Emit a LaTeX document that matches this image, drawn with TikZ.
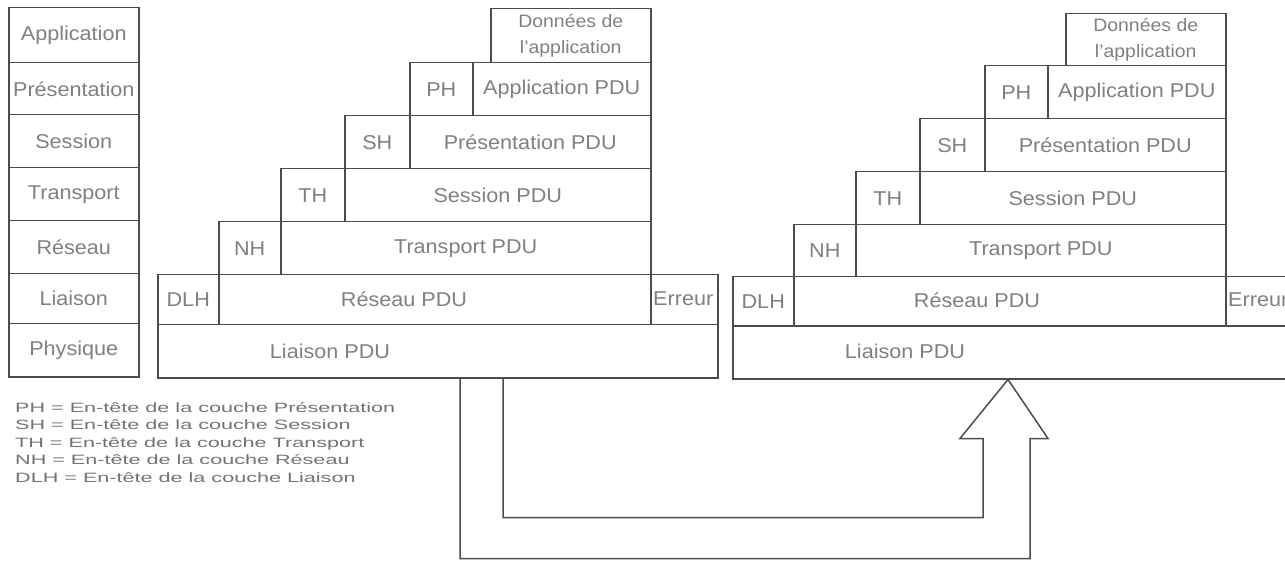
\documentclass[tikz,border=0pt]{standalone}
\usepackage{fontspec}
\setmainfont{Liberation Sans}[FakeStretch=1.08]
\newfontfamily\legendfont{Liberation Sans}[FakeStretch=1.6]
\usetikzlibrary{calc}

\tikzset{
  cell/.style={draw=black!70, line width=1.5pt, rectangle, anchor=north west,
    inner sep=0pt, text=black!50, font=\fontsize{20}{24}\selectfont},
  txt/.style={text=black!50, inner sep=0pt, font=\fontsize{20}{24}\selectfont},
  datacell/.style={cell, align=center, font=\fontsize{18}{26}\selectfont},
  legend/.style={text=black!55, inner sep=0pt, anchor=north west, align=left,
    font=\legendfont\fontsize{13.5}{17.5}\selectfont},
  bigarrow/.style={draw=black!70, line width=1.5pt, line join=miter}
}

\begin{document}
\begin{tikzpicture}[x=1pt, y=-1pt]
  \useasboundingbox (0,0) rectangle (1285,561);
  \clip (0,0) rectangle (1285,561);
  % OSI layers
  \node[cell, minimum width=130, minimum height=55] (app) at (8,7) {Application};
  \node[cell, minimum width=130, minimum height=52] (pre) at (8,62) {Présentation};
  \node[cell, minimum width=130, minimum height=53] (ses) at (8,114) {Session};
  \node[cell, minimum width=130, minimum height=53] (tra) at (8,167) {Transport};
  \node[cell, minimum width=130, minimum height=53] (res) at (8,220) {Réseau};
  \node[cell, minimum width=130, minimum height=50] (lia) at (8,273) {Liaison};
  \node[cell, minimum width=130, minimum height=53] (phy) at (8,323) {Physique};
  % Encapsulation 1
  \node[datacell, minimum width=160, minimum height=54] (donL) at (490,8) {Données de\\l'application};
  \node[cell, minimum width=63, minimum height=53] (phL) at (409,62) {PH};
  \node[cell, minimum width=178, minimum height=53] (appL) at (472,62) {Application PDU};
  \node[cell, minimum width=65, minimum height=53] (shL) at (344,115) {SH};
  \node[cell, minimum width=241, minimum height=53] (preL) at (409,115) {Présentation PDU};
  \node[cell, minimum width=64, minimum height=53] (thL) at (280,168) {TH};
  \node[cell, minimum width=306, minimum height=53] (sesL) at (344,168) {Session PDU};
  \node[cell, minimum width=62, minimum height=53] (nhL) at (218,221) {NH};
  \node[cell, minimum width=370, minimum height=53] (traL) at (280,221) {Transport PDU};
  \node[cell, minimum width=61, minimum height=50] (dlhL) at (157,274) {DLH};
  \node[cell, minimum width=432, minimum height=50] (resL) at (218,274) {};
  \node[cell, minimum width=67, minimum height=50] (errL) at (650,274) {};
  \node[cell, minimum width=560, minimum height=53] (liaL) at (157,324) {};
  \node[txt] (resLt) at (404,299) {Réseau PDU};
  \node[txt, anchor=west] (errLt) at (653,299) {Erreur};
  \node[txt] (liaLt) at (330,351) {Liaison PDU};
  % Encapsulation 2
  \node[datacell, minimum width=160, minimum height=52] (donR) at (1065,13) {Données de\\l'application};
  \node[cell, minimum width=63, minimum height=53] (phR) at (984,65) {PH};
  \node[cell, minimum width=178, minimum height=53] (appR) at (1047,65) {Application PDU};
  \node[cell, minimum width=65, minimum height=53] (shR) at (919,118) {SH};
  \node[cell, minimum width=241, minimum height=53] (preR) at (984,118) {Présentation PDU};
  \node[cell, minimum width=64, minimum height=53] (thR) at (855,171) {TH};
  \node[cell, minimum width=306, minimum height=53] (sesR) at (919,171) {Session PDU};
  \node[cell, minimum width=62, minimum height=52] (nhR) at (793,224) {NH};
  \node[cell, minimum width=370, minimum height=52] (traR) at (855,224) {Transport PDU};
  \node[cell, minimum width=61, minimum height=49] (dlhR) at (732,276) {DLH};
  \node[cell, minimum width=432, minimum height=49] (resR) at (793,276) {};
  \node[cell, minimum width=67, minimum height=49] (errR) at (1225,276) {};
  \node[cell, minimum width=560, minimum height=53] (liaR) at (732,325) {};
  \node[txt] (resRt) at (977,300) {Réseau PDU};
  \node[txt, anchor=west] (errRt) at (1228,300) {Erreur};
  \node[txt] (liaRt) at (905,351) {Liaison PDU};
  % Big arrow
  \coordinate (from) at ($(liaL.south west)+(303,0)$);
  \coordinate (tip) at ($(liaR.south west)+(276,0)$);
  \draw[bigarrow] (from) -- ++(0,180) -| ($(tip)+(22,59)$) -- ++(18,0) -- (tip)
    -- ($(tip)+(-48,59)$) -- ++(23,0) |- ($(from)+(43,139)$) -- ++(0,-139);
  % Legend
  \node[legend] (key) at (15,402) {PH = En-tête de la couche Présentation\\
    SH = En-tête de la couche Session\\
    TH = En-tête de la couche Transport\\
    NH = En-tête de la couche Réseau\\
    DLH = En-tête de la couche Liaison};
\end{tikzpicture}
\end{document}
